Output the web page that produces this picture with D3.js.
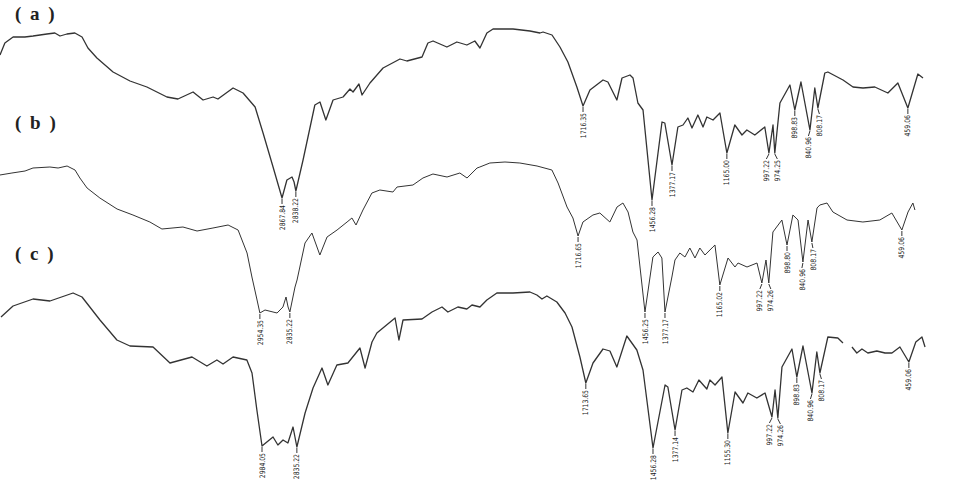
<!DOCTYPE html>
<html><head><meta charset="utf-8">
<script src="https://cdn.jsdelivr.net/npm/d3@7"></script>
<style>
html,body{margin:0;padding:0;background:#fff;}
svg{display:block;}
</style></head>
<body>
<svg id="chart" width="953" height="485"></svg>
<script>
// ---- Data (wavenumber cm-1, relative transmittance %) ----
const waveA = [4000,3981,3949,3903,3871,3817,3786,3766,3739,3708,3680,3657,3622,3559,3493,3427,3349,3306,3247,3208,3169,3150,3091,3052,3005,2974,2935,2900,2881,2861,2853,2846,2818,2772,2752,2729,2701,2662,2635,2623,2600,2588,2557,2506,2440,2413,2354,2331,2311,2257,2218,2179,2148,2128,2101,2077,1999,1933,1894,1882,1847,1816,1785,1750,1726,1699,1648,1629,1594,1574,1543,1531,1512,1492,1457,1418,1407,1379,1356,1336,1317,1301,1278,1258,1243,1219,1192,1165,1134,1106,1087,1056,1017,1001,985,978,958,919,900,876,841,822,810,783,771,712,673,634,588,537,498,459,420,400];
const transA = [82.5,88.5,91.5,91.5,92,93,93.5,92,93,93.5,91.5,86,81,74,69.5,66.5,61.5,60.5,64,60,61.5,60.5,66,63.5,56.5,43.5,26.5,11,20,21.5,19,14.5,30,57.5,59,50,60,61.5,65.5,64,68,62.5,68.5,76,80.5,79.5,81.5,88.5,89.5,86.5,89,87.5,89.5,86,93.5,95.5,95.5,94.5,93.5,94,92.5,86.5,79,66.5,57,65,70,69,60,71,72.5,71,58.5,55,10,49,48.5,27.5,46.5,47.5,51,46,52.5,46.5,51.5,50,53.5,33.5,47.5,42.5,45,42.5,46.5,33.5,47.5,33.5,58.5,67.5,55,69,45,66,56,73.5,74,70,66.5,66,66.5,63.5,68.5,56,73,71];

const waveB = [3977,3930,3879,3848,3782,3750,3715,3684,3665,3637,3587,3520,3458,3392,3345,3263,3208,3146,3087,3048,3013,2994,2974,2963,2943,2896,2873,2861,2853,2846,2826,2818,2787,2760,2729,2701,2662,2623,2604,2588,2561,2526,2495,2444,2428,2366,2327,2288,2233,2183,2155,2116,2105,2066,2007,1949,1882,1824,1800,1765,1742,1722,1703,1664,1637,1598,1570,1547,1527,1508,1492,1461,1430,1410,1395,1383,1356,1344,1325,1305,1286,1266,1247,1227,1196,1188,1169,1137,1110,1098,1063,1024,1005,989,978,962,927,907,884,864,845,825,810,790,779,751,728,673,611,545,498,459,435,416,408];
const transB = [82.5,83.5,84.5,86,86.5,86,87,85,81,76,71,65.5,62.5,59,55.5,56.5,54.5,56,57.5,55,43.5,31.5,20,13.5,15,13.5,16.5,21.5,16.5,14,26.5,30,48.5,53.5,42.5,51.5,55,59,61,57.5,65,73.5,75,74,76.5,77.5,81,83,81.5,83.5,81,86,86.5,88.5,89,88.5,87,85,78.5,66.5,61,52,59,62.5,63.5,59,66.5,68.5,64,54,50,14,41.5,44,41,14,31.5,40,43.5,41.5,46,41,46,42.5,46.5,47.5,27.5,41,36.5,38.5,36.5,38.5,28.5,40,28.5,54,60,47.5,62.5,60,39,60,49,66,67.5,68.5,64,60,59,60,63.5,55,64,68.5,65];

const waveC = [4000,3953,3875,3809,3719,3684,3614,3548,3497,3407,3341,3255,3197,3158,3134,3095,3041,3021,3002,2982,2963,2939,2920,2900,2881,2861,2846,2814,2783,2748,2725,2690,2647,2600,2580,2553,2534,2463,2448,2432,2358,2319,2280,2257,2218,2183,2163,2132,2105,2066,2003,1937,1910,1890,1871,1832,1800,1773,1742,1719,1691,1652,1625,1598,1559,1520,1496,1457,1410,1399,1371,1344,1325,1301,1278,1247,1235,1215,1188,1165,1137,1106,1087,1052,1020,993,981,970,954,915,896,872,837,818,806,775,736,716,700,681,662,642,619,584,552,525,494,459,432,408,396];
const transC = [76.5,82,85.5,84.5,88.5,86.5,75,65,62,61.5,53.5,56.5,52,55,53,56.5,55,48.5,30,12,14,16.5,12.5,15,13.5,21.5,11.5,28.5,41,51,42.5,52.5,53.5,61,51,64,68.5,76,65,75,75.5,79,81.5,79,81.5,80.5,82.5,81.5,85,88.5,88.5,89,87.5,85.5,87,84,78.5,71.5,56.5,43.5,53.5,60.5,59.5,51.5,67,60,50,11,42.5,41.5,20,40,41,39,45,40.5,45,42.5,46.5,18.5,39,33.5,38.5,36,38.5,26.5,40,26,51.5,60.5,46.5,62,38.5,59,48.5,66.5,66,63.5,null,61.5,58.5,60.5,58.5,59.5,58.5,58.5,61.5,54,64,66.5,61.5];

// Peak annotations: [label, wavenumber of the marked minimum]
const peaksA = [["2867.84",2900],["2838.22",2846],["1716.35",1726],["1456.28",1457],["1377.17",1379],["1165.00",1165],["997.22",1001],["974.25",978],["898.83",900],["840.96",841],["808.17",810],["459.06",459]];
const peaksB = [["2954.35",2963],["2835.22",2846],["1716.65",1722],["1456.25",1461],["1377.17",1383],["1165.02",1169],["997.22",1005],["974.26",978],["898.80",907],["840.96",845],["808.17",810],["459.06",459]];
const peaksC = [["2984.05",2982],["2835.22",2846],["1713.65",1719],["1456.28",1457],["1377.14",1371],["1155.30",1165],["997.22",993],["974.26",970],["898.83",896],["840.96",837],["808.17",806],["459.06",459]];

const panelLabels = ["( a )","( b )","( c )"];

// ---- Layout ----
const series = [
  {wave: waveA, trans: transA, peaks: peaksA, dx: 0,  base: 220, width: 1.3, label: panelLabels[0], ly: 20},
  {wave: waveB, trans: transB, peaks: peaksB, dx: -6, base: 340, width: 1.0, label: panelLabels[1], ly: 129},
  {wave: waveC, trans: transC, peaks: peaksC, dx: 1,  base: 470, width: 1.3, label: panelLabels[2], ly: 260}
];

const svg = d3.select("#chart");
svg.append("rect").attr("width",953).attr("height",485).attr("fill","#fff");

series.forEach(s => {
  const x = d3.scaleLinear().domain([4000, 400]).range([s.dx, 923 + s.dx]);
  const y = d3.scaleLinear().domain([0, 100]).range([s.base, s.base - 200]);
  const pts = s.wave.map((w, i) => ({w, t: s.trans[i]}));
  const line = d3.line().defined(d => d.t != null).x(d => x(d.w)).y(d => y(d.t));
  svg.append("path").datum(pts)
    .attr("d", line).attr("fill", "none")
    .attr("stroke", "#333").attr("stroke-width", s.width)
    .attr("stroke-linejoin", "round");

  // peak labels
  const labs = s.peaks.map(([lab, w]) => {
    const p = pts.find(d => d.w === w);
    return {lab, px: x(w), py: y(p.t), lx: x(w)};
  }).sort((a, b) => a.px - b.px);
  for (let i = 1; i < labs.length; i++) {
    const d = labs[i].lx - labs[i-1].lx;
    if (d < 11) { const sh = (11 - d) / 2; labs[i-1].lx -= sh; labs[i].lx += sh; }
  }
  const g = svg.append("g");
  labs.forEach(l => {
    g.append("line")
      .attr("x1", l.px).attr("y1", l.py + 1)
      .attr("x2", l.lx).attr("y2", l.py + 6)
      .attr("stroke", "#333").attr("stroke-width", 1);
    g.append("text")
      .attr("transform", `translate(${l.lx},${l.py + 7}) rotate(-90)`)
      .attr("text-anchor", "end").attr("dy", "0.35em")
      .attr("font-family", "'Liberation Sans Narrow','DejaVu Sans Condensed',sans-serif")
      .attr("font-size", 7.5).attr("fill", "#222")
      .attr("textLength", l.lab.length * 3.6).attr("lengthAdjust", "spacingAndGlyphs")
      .text(l.lab);
  });

  svg.append("text")
    .attr("x", 15).attr("y", s.ly)
    .attr("font-family", "'Liberation Serif','DejaVu Serif',serif")
    .attr("font-weight", "bold").attr("font-size", 19)
    .attr("letter-spacing", 2).style("white-space", "pre")
    .attr("fill", "#222")
    .text(s.label);
});
</script>
</body></html>
